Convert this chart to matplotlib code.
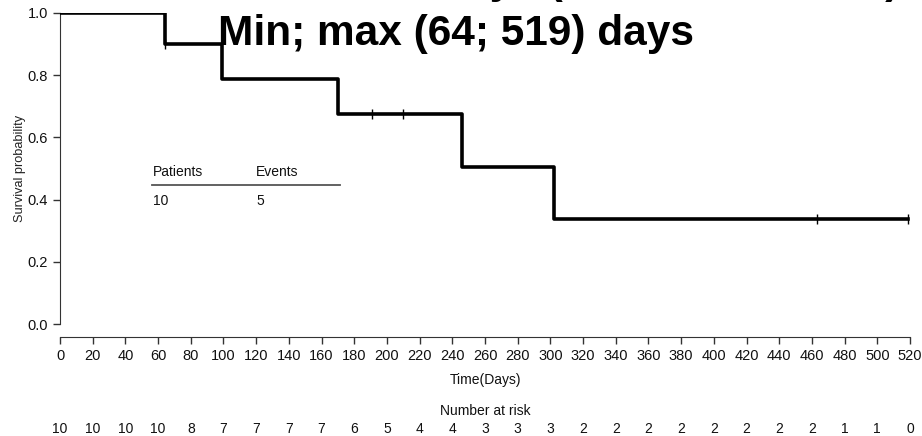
import matplotlib
matplotlib.use("Agg")
import matplotlib.pyplot as plt

# Kaplan-Meier steps (time in days, survival after the step)
step_times = [0, 64, 99, 170, 246, 302, 519]
step_surv = [1.0, 0.9, 0.7875, 0.675, 0.50625, 0.3375, 0.3375]

# censored observations
censor_times = [64, 191, 210, 463, 519]
censor_surv = [0.9, 0.675, 0.675, 0.3375, 0.3375]

risk_times = list(range(0, 521, 20))
risk_counts = [10, 10, 10, 10, 8, 7, 7, 7, 7, 6, 5, 4, 4, 3, 3, 3,
               2, 2, 2, 2, 2, 2, 2, 2, 1, 1, 0]

y_ticks = [0.0, 0.2, 0.4, 0.6, 0.8, 1.0]

n_patients = 10
n_events = 5

plt.rcParams['font.family'] = ['Liberation Sans Narrow', 'Liberation Sans', 'DejaVu Sans']

W, H = 922, 436
fig = plt.figure(figsize=(W / 100, H / 100), dpi=100)
ax = fig.add_axes([60 / W, 1 - 324 / H, 850 / W, 311 / H])

ax.step(step_times, step_surv, where='post', color='black', lw=2.6, zorder=3)
ax.plot(censor_times, censor_surv, ls='none', marker='|', ms=7, mew=1,
        color='black', zorder=4)

ax.set_xlim(0, 520)
ax.set_ylim(0, 1)
ax.set_xticks(risk_times)
ax.set_yticks(y_ticks)
ax.set_yticklabels([f"{v:.1f}" for v in y_ticks])

for s in ['top', 'right']:
    ax.spines[s].set_visible(False)
ax.spines['left'].set_color('#333333')
ax.spines['bottom'].set_color('#333333')
ax.spines['bottom'].set_position(('outward', 9))
ax.tick_params(axis='both', colors='#333333', labelcolor='#111111',
               labelsize=10.5, length=5, width=1)
ax.tick_params(axis='x', pad=4)
ax.set_ylabel('Survival probability', fontsize=9.2, color='#222222', labelpad=1)

ax.set_xlabel('Time(Days)', fontsize=10, color='#111111', labelpad=7)

# number at risk row
fig.text(485 / W, 1 - 411 / H, 'Number at risk', ha='center', va='center',
         fontsize=10, color='#111111')
for t, n in zip(risk_times, risk_counts):
    xf = (60 + t * 850 / 520) / W
    fig.text(xf, 1 - 429 / H, str(n), ha='center', va='center',
             fontsize=10, color='#111111')

# small patients / events table
ax.text(57, 0.49, 'Patients', ha='left', va='center', fontsize=10, color='#111111')
ax.text(120, 0.49, 'Events', ha='left', va='center', fontsize=10, color='#111111')
ax.plot([56.5, 171.5], [0.448, 0.448], color='#555555', lw=1.3)
ax.text(57, 0.395, str(n_patients), ha='left', va='center', fontsize=10, color='#111111')
ax.text(120, 0.395, str(n_events), ha='left', va='center', fontsize=10, color='#111111')

# title lines (first one is cut off by the top edge, as in the source image)
fig.text(456 / W, 1 + 6.5 / H, 'Median survival: 302 days (95% CI: 170; NA)',
         ha='center', va='baseline', fontsize=30.5, fontweight='bold',
         family='Liberation Sans')
fig.text(456 / W, 1 - 45 / H, 'Min; max (64; 519) days', ha='center',
         va='baseline', fontsize=30.5, fontweight='bold', family='Liberation Sans',
         zorder=5)

fig.savefig('out.png', dpi=100)
